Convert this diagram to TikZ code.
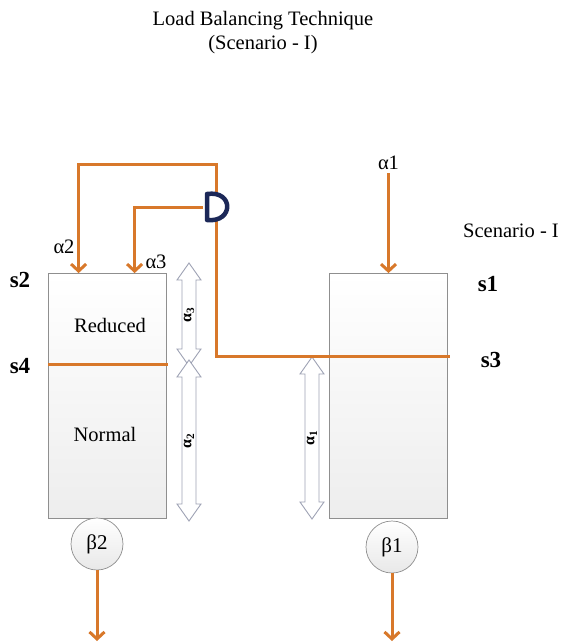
\documentclass[tikz,border=0pt]{standalone}
\usepackage{fontspec}
\setmainfont{Liberation Serif}
\usepackage{tikz}
\usetikzlibrary{arrows.meta,positioning}
\definecolor{flow}{HTML}{D8782A}
\definecolor{valveink}{HTML}{1C2858}
\definecolor{edge}{HTML}{8F8F8F}
\definecolor{dbledge}{HTML}{9EA2B4}
\tikzset{
  serverbox/.style={
    rectangle, draw=edge, line width=0.8pt,
    top color=white, bottom color=gray!14,
    minimum width=118pt, minimum height=245pt,
    inner sep=0pt
  },
  queuecircle/.style={
    circle, draw=edge, line width=0.7pt,
    top color=white, bottom color=gray!18,
    minimum size=52pt, inner sep=0pt,
    font=\fontsize{21}{22}\selectfont
  },
  flowline/.style={draw=flow, line width=3pt},
  flowarrow/.style={flowline, -{Straight Barb[length=7pt,width=15pt]}},
  statelabel/.style={font=\fontsize{23}{24}\selectfont\bfseries},
  ratelabel/.style={font=\fontsize{20.5}{24}\selectfont},
  spanarrow/.style={draw=dbledge, fill=white, line width=0.9pt},
  spanlabel/.style={font=\fontsize{16}{17}\selectfont\bfseries, rotate=90},
}
% two-headed span arrow: name, x, top, bottom, label
\newcommand{\twoway}[5]{%
  \draw[spanarrow] (#2,#3) -- (#2+12,#3+17) -- (#2+7,#3+17) -- (#2+7,#4-17)
    -- (#2+12,#4-17) -- (#2,#4) -- (#2-12,#4-17) -- (#2-7,#4-17)
    -- (#2-7,#3+17) -- (#2-12,#3+17) -- cycle;
  \node[spanlabel] (#1) at (#2,{(#3+#4)/2}) {#5};}

\begin{document}
\begin{tikzpicture}[x=1pt, y=-1pt]
  \useasboundingbox (0,0) rectangle (560,643);

  % Title
  \node[ratelabel, align=center] (title) at (263,33)
    {Load Balancing Technique\\(Scenario - I)};
  \node[ratelabel] (scen) at (511,231) {Scenario - I};

  % Servers
  \node[serverbox] (box2) at (107,396) {};
  \node[serverbox] (box1) at (388.5,396) {};
  \node[ratelabel] (redlab) at (110,325) {Reduced};
  \node[ratelabel] (normlab) at (105,434) {Normal};

  % Level markers
  \node[statelabel] (s2lab) at (20,280) {s2};
  \node[statelabel] (s4lab) at (20,366) {s4};
  \node[statelabel] (s1lab) at (488,284) {s1};
  \node[statelabel] (s3lab) at (491,360) {s3};

  % Span arrows
  \twoway{sp3}{189}{263}{366}{α\textsubscript{3}}
  \twoway{sp2}{189}{360}{521}{α\textsubscript{2}}
  \twoway{sp1}{312}{357}{519}{α\textsubscript{1}}

  % Arrivals
  \node[ratelabel, above=100pt of box1.north] (a1lab) {α1};
  \node[ratelabel] (a2lab) at (64,247) {α2};
  \node[ratelabel] (a3lab) at (156,262) {α3};
  \coordinate (in2) at ([xshift=31pt]box2.north west);
  \coordinate (in3) at ([xshift=87pt]box2.north west);
  \draw[flowarrow] (a1lab.south) -- (box1.north);

  % Valve and feedback
  \node[minimum width=26pt, minimum height=28pt, inner sep=0pt] (valve) at (216,207) {};
  \coordinate (s3end) at (450,356);
  \coordinate (s4line) at (48,364);
  \draw[flowarrow] (valve.north) -- ++(0,-28) -| (in2);
  \draw[flowarrow] (valve.west) -| (in3);
  \draw[flowline] (valve.south) |- (s3end);
  \draw[flowline] (s4line) -- ([xshift=2pt]s4line -| box2.east);
  \draw[valveink, line width=4.5pt, line join=round]
    (207,194) -- (207,220) .. controls (234,223) and (234,190) .. cycle;

  % Departures
  \node[queuecircle] (b2) at (97,544) {β2};
  \node[queuecircle] (b1) at (392,547) {β1};
  \coordinate (out2) at (97,641);
  \coordinate (out1) at (392,641);
  \draw[flowarrow] (b2.south) -- (out2);
  \draw[flowarrow] (b1.south) -- (out1);
\end{tikzpicture}
\end{document}
